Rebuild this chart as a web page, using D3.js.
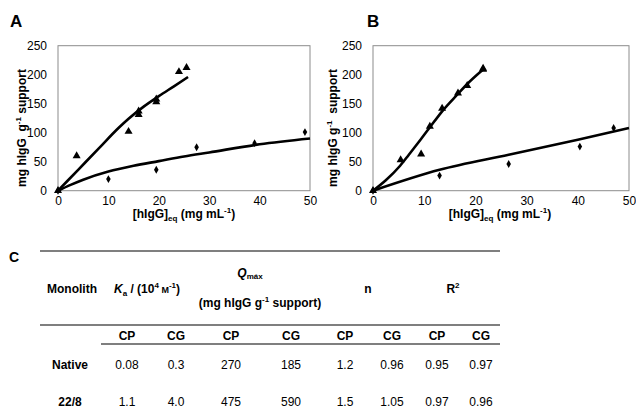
<!DOCTYPE html>
<html lang="en">
<head>
<meta charset="UTF-8">
<script src="https://cdnjs.cloudflare.com/ajax/libs/d3/7.8.5/d3.min.js"></script>
<style>
  body { margin: 0; background: #fff; }
  svg { font-family: Arial, "Liberation Sans", sans-serif; }
  .bold { font-weight: bold; }
</style>
</head>
<body>
<div id="chart"></div>
<script>
// ---- data ----
var xTicks = [0, 10, 20, 30, 40, 50];
var yTicks = [0, 50, 100, 150, 200, 250];

// panel A
var aTriangles = [[0,0],[3.7,60],[14,102],[16,131],[16,137],[19.5,153],[19.5,158],[24,205],[25.5,212]];
var aDiamonds  = [[0,0],[10,20],[19.5,36],[27.5,75],[39,82],[49,101]];
var aTriFit    = [[0,0],[4,36],[8,72],[12,108],[14,124],[17,145],[20,163],[23,180],[25.8,196]];
var aDiaFit    = [[0,0],[2.5,10],[5,19],[10,33],[15,43],[20,51],[25,59],[30,66],[40,80],[50,90]];

// panel B
var bTriangles = [[0,0],[5.4,53],[9.4,63],[11.1,111],[13.5,142],[16.6,168],[18.4,181],[21.5,209],[21.5,211]];
var bDiamonds  = [[0,0],[13,26],[26.5,46],[40.4,76],[47,108]];
var bTriFit    = [[0,0],[2.5,18],[5.3,43],[7,62],[9.2,87],[11,108],[13.7,139],[16.6,167],[18.4,184],[21.5,209]];
var bDiaFit    = [[0,0],[13,36],[26.5,62],[40,88],[50,108]];

// table C
var subCols = ["CP","CG","CP","CG","CP","CG","CP","CG"];
var rowNames = ["Native", "22/8"];
var rowValues = [
  ["0.08","0.3","270","185","1.2","0.96","0.95","0.97"],
  ["1.1","4.0","475","590","1.5","1.05","0.97","0.96"]
];

var W = 636, H = 413;
var svg = d3.select("#chart").append("svg")
  .attr("width", W).attr("height", H);

// raised small text, then the rest back on the baseline
function sup(txt, s, after, afterSize) {
  txt.append("tspan").attr("dy", -5).attr("font-size", 8).text(s);
  var t = txt.append("tspan").attr("dy", 5).text(after);
  if (afterSize) t.attr("font-size", afterSize);
}
function sub(txt, s, after, shift) {
  txt.append("tspan").attr("dy", shift).attr("font-size", 8).text(s);
  txt.append("tspan").attr("dy", -shift).text(after);
}

function panel(opt) {
  var x = d3.scaleLinear().domain([0, 50]).range([opt.x0, opt.x1]);
  var y = d3.scaleLinear().domain([0, 250]).range([190.7, 45.7]);
  var g = svg.append("g");

  g.append("rect")
    .attr("x", opt.x0).attr("y", y(250))
    .attr("width", opt.x1 - opt.x0).attr("height", y(0) - y(250))
    .attr("fill", "none").attr("stroke", "#8c8c8c").attr("stroke-width", 1);

  var ax = g.append("g").attr("transform", "translate(0," + y(0) + ")")
    .call(d3.axisBottom(x).tickValues(xTicks).tickSize(0).tickPadding(6));
  var ay = g.append("g").attr("transform", "translate(" + opt.x0 + ",0)")
    .call(d3.axisLeft(y).tickValues(yTicks).tickSize(0).tickPadding(11));
  [ax, ay].forEach(function(a) {
    a.select(".domain").remove();
    a.selectAll("text").attr("font-size", 12).attr("fill", "#000")
      .attr("font-family", "Arial, 'Liberation Sans', sans-serif");
  });

  var line = d3.line().x(function(d) { return x(d[0]); })
    .y(function(d) { return y(d[1]); }).curve(d3.curveMonotoneX);

  [opt.triFit, opt.diaFit].forEach(function(f) {
    g.append("path").datum(f).attr("d", line)
      .attr("fill", "none").attr("stroke", "#000").attr("stroke-width", 2.6);
  });

  g.selectAll(".tri").data(opt.tri).enter().append("path")
    .attr("transform", function(d) { return "translate(" + x(d[0]) + "," + y(d[1]) + ")"; })
    .attr("d", d3.symbol().type(d3.symbolTriangle).size(28));
  g.selectAll(".dia").data(opt.dia).enter().append("path")
    .attr("transform", function(d) { return "translate(" + x(d[0]) + "," + y(d[1]) + ")"; })
    .attr("d", d3.symbol().type(d3.symbolDiamond).size(18));

  // titles
  var yt = g.append("text").attr("class", "bold").attr("font-size", 12)
    .attr("text-anchor", "middle").style("white-space", "pre")
    .attr("transform", "translate(" + opt.yTitleX + ",128) rotate(-90)")
    .attr("dy", "0.35em");
  yt.append("tspan").text(opt.yTitleA);
  sup(yt, "-1", opt.yTitleB);

  var xt = g.append("text").attr("class", "bold").attr("font-size", 12)
    .attr("text-anchor", "middle")
    .attr("x", opt.xTitleX).attr("y", 218);
  xt.append("tspan").text("[hIgG]");
  sub(xt, "eq", " (mg mL", 3);
  sup(xt, "-1", ")");

  g.append("text").attr("class", "bold").attr("font-size", 17)
    .attr("x", opt.letterX).attr("y", 27).text(opt.letter);
}

panel({ x0: 58, x1: 310, tri: aTriangles, dia: aDiamonds, triFit: aTriFit, diaFit: aDiaFit,
  yTitleX: 22, yTitleA: "mg hIgG  g", yTitleB: " support", xTitleX: 184, letter: "A", letterX: 10 });
panel({ x0: 373, x1: 629, tri: bTriangles, dia: bDiamonds, triFit: bTriFit, diaFit: bDiaFit,
  yTitleX: 333, yTitleA: "mg hIgG g", yTitleB: "  support", xTitleX: 500, letter: "B", letterX: 367 });

// ---- table C ----
var t = svg.append("g").attr("font-size", 12);
t.append("text").attr("class", "bold").attr("font-size", 14).attr("x", 9).attr("y", 262).text("C");

[[40, 251], [40, 325], [101, 344]].forEach(function(l) {
  t.append("line").attr("x1", l[0]).attr("x2", 500).attr("y1", l[1]).attr("y2", l[1])
    .attr("stroke", "#555").attr("stroke-width", 1.4);
});

var colX = [127, 176, 231, 291, 345, 392, 437, 481];

t.append("text").attr("class", "bold").attr("text-anchor", "middle")
  .attr("x", 72).attr("y", 293).text("Monolith");

var ka = t.append("text").attr("class", "bold").attr("text-anchor", "middle")
  .attr("x", 147).attr("y", 293);
ka.append("tspan").attr("font-style", "italic").text("K");
sub(ka, "a", " / (10", 3);
sup(ka, "4", " M", 9);
sup(ka, "-1", ")", 12);

var q = t.append("text").attr("class", "bold").attr("text-anchor", "middle")
  .attr("x", 250).attr("y", 277);
q.append("tspan").attr("font-style", "italic").text("Q");
q.append("tspan").attr("dy", 2).attr("font-size", 8).text("máx");

var qu = t.append("text").attr("class", "bold").attr("text-anchor", "middle")
  .attr("x", 260).attr("y", 307);
qu.append("tspan").text("(mg hIgG g");
sup(qu, "-1", " support)");

t.append("text").attr("class", "bold").attr("text-anchor", "middle")
  .attr("x", 368).attr("y", 293).text("n");
var r2 = t.append("text").attr("class", "bold").attr("text-anchor", "middle")
  .attr("x", 453).attr("y", 293);
r2.append("tspan").text("R");
r2.append("tspan").attr("dy", -5).attr("font-size", 8).text("2");

t.selectAll(".sub").data(subCols).enter().append("text")
  .attr("class", "bold").attr("text-anchor", "middle")
  .attr("x", function(d, i) { return colX[i]; }).attr("y", 340)
  .text(function(d) { return d; });

var rowY = [369, 406];
rowNames.forEach(function(name, r) {
  t.append("text").attr("class", "bold").attr("text-anchor", "middle")
    .attr("x", 70).attr("y", rowY[r]).text(name);
  t.selectAll(".v" + r).data(rowValues[r]).enter().append("text")
    .attr("text-anchor", "middle")
    .attr("x", function(d, i) { return colX[i]; }).attr("y", rowY[r])
    .text(function(d) { return d; });
});
</script>
</body>
</html>
